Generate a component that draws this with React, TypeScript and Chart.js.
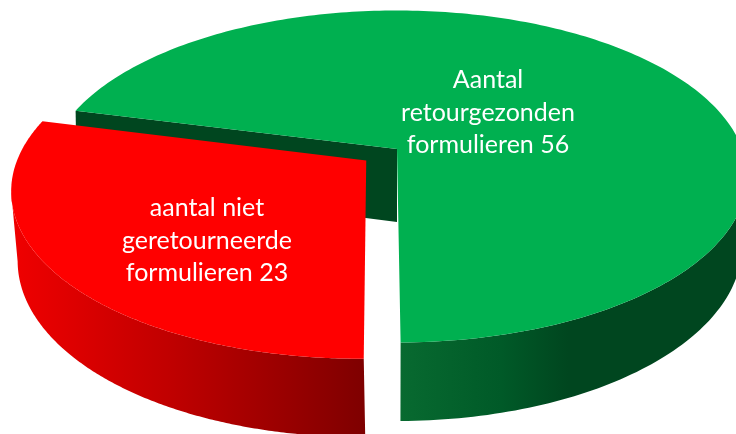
import React, { useEffect, useRef } from "react";
import { Chart, registerables } from "chart.js";

Chart.register(...registerables);

const categories = ["aantal niet geretourneerde formulieren", "Aantal retourgezonden formulieren"];
const values = [23, 56];
const labelLines = [
  ["aantal niet", "geretourneerde", "formulieren 23"],
  ["Aantal", "retourgezonden", "formulieren 56"],
];
const topColors = ["#ff0000", "#00b050"];
const wallColor = "#00461f";
const sideStops = [
  [[0, "#f00000"], [0.45, "#c00000"], [1, "#7f0000"]],
  [[0, "#086a30"], [0.3, "#005a28"], [0.5, "#00461f"], [1, "#00461f"]],
];
const labelCenters = [[207, 208], [488, 80]];

const rimTop = { cx: 397, cy: 176.5, a: 350, b: 166, k: -0.165 };
const rimBottom = { cx: 397, cy: 246, a: 345, b: 175, k: -0.137 };

type Rim = typeof rimTop;
const project = (r: Rim, x: number, y: number) => {
  const s = Math.sqrt(1 - r.k * r.k);
  const d = 1 + r.k * y;
  return { x: r.cx + (r.a * x * s) / d, y: r.cy + (r.b * (y + r.k)) / d };
};

const piePlugin = {
  id: "perspectivePie",
  beforeDatasetDraw(chart: any) {
    const ctx = chart.ctx;
    const arcs = chart.getDatasetMeta(0).data;
    const draw = (i: number) => {
      const arc = arcs[i];
      const start = arc.startAngle;
      const end = arc.endAngle;
      const mid = (start + end) / 2;
      const d = (arc.options.offset || 0) / arc.outerRadius;
      const ox = Math.cos(mid) * d;
      const oy = Math.sin(mid) * d;
      const steps = 240;
      const angles: number[] = [];
      for (let n = 0; n <= steps; n++) angles.push(start + ((end - start) * n) / steps);
      const at = (r: Rim, t: number) => project(r, Math.cos(t) + ox, Math.sin(t) + oy);

      // outer side: from the front edge to the silhouette extreme of each rim
      const visible = (r: Rim) => {
        const xs = angles.map((t) => at(r, t).x);
        if (i === 0) return angles.slice(0, xs.indexOf(Math.min(...xs)) + 1);
        return angles.slice(xs.indexOf(Math.max(...xs)));
      };
      const grad = ctx.createLinearGradient(i === 0 ? 12 : 400, 0, i === 0 ? 363 : 736, 0);
      sideStops[i].forEach((s: any) => grad.addColorStop(s[0], s[1]));
      ctx.beginPath();
      visible(rimTop).forEach((t, n) => {
        const p = at(rimTop, t);
        n ? ctx.lineTo(p.x, p.y) : ctx.moveTo(p.x, p.y);
      });
      visible(rimBottom)
        .reverse()
        .forEach((t) => {
          const p = at(rimBottom, t);
          ctx.lineTo(p.x, p.y);
        });
      ctx.closePath();
      ctx.fillStyle = grad;
      ctx.fill();

      // cut wall behind the exploded slice
      if (i === 1) {
        const a = at(rimTop, start);
        const b = project(rimTop, ox, oy);
        const c = project(rimBottom, ox, oy);
        const e = at(rimBottom, start);
        ctx.beginPath();
        ctx.moveTo(a.x, a.y);
        ctx.lineTo(b.x, b.y);
        ctx.lineTo(c.x, c.y);
        ctx.lineTo(e.x, e.y);
        ctx.closePath();
        ctx.fillStyle = wallColor;
        ctx.fill();
      }

      // top face
      const v = project(rimTop, ox, oy);
      ctx.beginPath();
      ctx.moveTo(v.x, v.y);
      angles.forEach((t) => {
        const p = at(rimTop, t);
        ctx.lineTo(p.x, p.y);
      });
      ctx.closePath();
      ctx.fillStyle = arc.options.backgroundColor;
      ctx.fill();
    };
    draw(1);
    draw(0);

    ctx.fillStyle = "#ffffff";
    ctx.font = "25px Lato";
    ctx.textAlign = "center";
    ctx.textBaseline = "middle";
    labelLines.forEach((lines, i) =>
      lines.forEach((line, n) => ctx.fillText(line, labelCenters[i][0], labelCenters[i][1] + n * 32.5))
    );
    return false;
  },
};

export default function App() {
  const ref = useRef<HTMLCanvasElement>(null);
  useEffect(() => {
    const chart = new Chart(ref.current!, {
      type: "pie",
      data: {
        labels: categories,
        datasets: [{ data: values, backgroundColor: topColors, offset: [23, 0], borderWidth: 0 }],
      },
      options: {
        responsive: false,
        animation: false,
        rotation: 179.5,
        plugins: { legend: { display: false }, tooltip: { enabled: false } },
      },
      plugins: [piePlugin],
    } as any);
    return () => chart.destroy();
  }, []);
  return (
    <div style={{ position: "fixed", left: 0, top: 0, width: 736, height: 434, overflow: "hidden", background: "#fff" }}>
      <canvas ref={ref} width={736} height={434} style={{ display: "block" }} />
    </div>
  );
}
